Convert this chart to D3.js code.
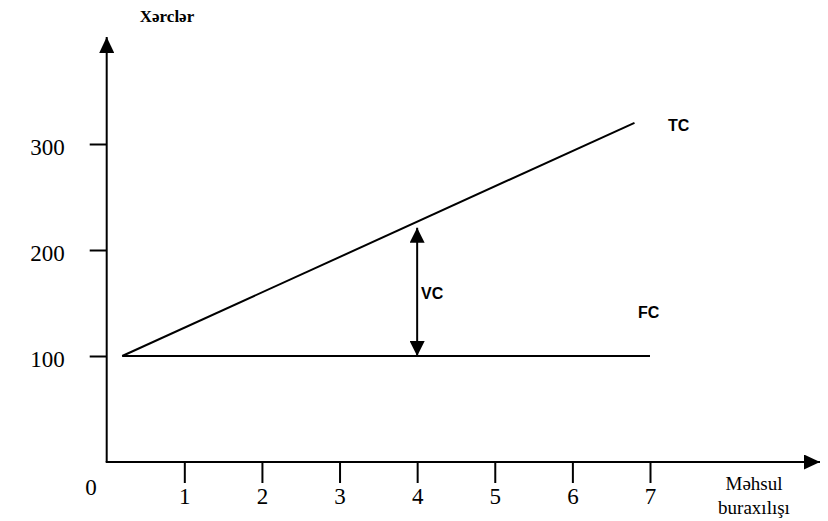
<!DOCTYPE html>
<html><head><meta charset="utf-8">
<script src="https://cdn.jsdelivr.net/npm/d3@7"></script>
<style>body{margin:0;background:#fff}svg{display:block}</style>
</head><body>
<svg id="c" width="828" height="521"></svg>
<script>
const xTicks = [1, 2, 3, 4, 5, 6, 7];
const yTicks = [100, 200, 300];
const fcLine = [[0.2, 100], [7, 100]];
const tcLine = [[0.2, 100], [6.8, 320]];
const vcArrow = [[4, 100], [4, 221]];
const yTitle = "Xərclər";
const xTitle = ["Məhsul", "buraxılışı"];

const svg = d3.select("#c");
const x = d3.scaleLinear().domain([0, 7]).range([106.7, 650]);
const y = d3.scaleLinear().domain([0, 300]).range([462, 144]);

const defs = svg.append("defs");
function marker(id, w, h) {
  defs.append("marker").attr("id", id)
    .attr("markerUnits", "userSpaceOnUse")
    .attr("viewBox", `0 ${-h/2} ${w} ${h}`)
    .attr("refX", w).attr("refY", 0)
    .attr("markerWidth", w).attr("markerHeight", h)
    .attr("orient", "auto-start-reverse")
    .append("path").attr("d", `M0,${-h/2}L${w},0L0,${h/2}Z`).attr("fill", "#000");
}
marker("ax", 16, 15);
marker("vc", 15, 15);

svg.append("line").attr("x1", x(0)).attr("y1", y(0)).attr("x2", x(0)).attr("y2", 37)
  .attr("stroke", "#000").attr("stroke-width", 2).attr("marker-end", "url(#ax)");
svg.append("line").attr("x1", x(0) - 1).attr("y1", y(0)).attr("x2", 820).attr("y2", y(0))
  .attr("stroke", "#000").attr("stroke-width", 2).attr("marker-end", "url(#ax)");

const yAxis = svg.append("g").attr("transform", `translate(${x(0)},0)`)
  .call(d3.axisLeft(y).tickValues(yTicks).tickSize(17).tickPadding(25).tickFormat(d3.format("d")));
yAxis.select(".domain").remove();
yAxis.selectAll(".tick line").attr("stroke-width", 2);
yAxis.selectAll(".tick text").attr("font-family", "Liberation Serif, Times New Roman, serif")
  .attr("font-size", 23).attr("fill", "#000").attr("dy", "0.45em");

const xAxis = svg.append("g").attr("transform", `translate(0,${y(0)})`)
  .call(d3.axisBottom(x).tickValues(xTicks).tickSize(21).tickPadding(5).tickFormat(d3.format("d")));
xAxis.select(".domain").remove();
xAxis.selectAll(".tick line").attr("stroke-width", 2);
xAxis.selectAll(".tick text").attr("font-family", "Liberation Serif, Times New Roman, serif")
  .attr("font-size", 23).attr("fill", "#000");

svg.append("text").attr("x", 91).attr("y", 495).attr("text-anchor", "middle")
  .attr("font-family", "Liberation Serif, serif").attr("font-size", 23).text("0");

const line = d3.line().x(d => x(d[0])).y(d => y(d[1]));
svg.append("path").attr("d", line(fcLine)).attr("fill", "none").attr("stroke", "#000").attr("stroke-width", 2);
svg.append("path").attr("d", line(tcLine)).attr("fill", "none").attr("stroke", "#000").attr("stroke-width", 2);
svg.append("line").attr("x1", x(vcArrow[0][0])).attr("y1", y(vcArrow[0][1]))
  .attr("x2", x(vcArrow[1][0])).attr("y2", y(vcArrow[1][1]))
  .attr("stroke", "#000").attr("stroke-width", 2)
  .attr("marker-start", "url(#vc)").attr("marker-end", "url(#vc)");

const lab = (t, xx, yy) => svg.append("text").attr("x", xx).attr("y", yy)
  .attr("font-family", "Liberation Sans, Arial, sans-serif").attr("font-weight", "bold")
  .attr("font-size", 16).attr("dominant-baseline", "middle").text(t);
lab("TC", 668, 127);
lab("FC", 638, 314);
lab("VC", 421, 295);

svg.append("text").attr("x", 167).attr("y", 22).attr("text-anchor", "middle")
  .attr("font-family", "Liberation Serif, serif").attr("font-weight", "bold").attr("font-size", 17)
  .text(yTitle);
svg.append("text").attr("x", 754).attr("y", 490).attr("text-anchor", "middle")
  .attr("font-family", "Liberation Serif, serif").attr("font-size", 19).text(xTitle[0]);
svg.append("text").attr("x", 754).attr("y", 514).attr("text-anchor", "middle")
  .attr("font-family", "Liberation Serif, serif").attr("font-size", 19).text(xTitle[1]);
</script>
</body></html>
